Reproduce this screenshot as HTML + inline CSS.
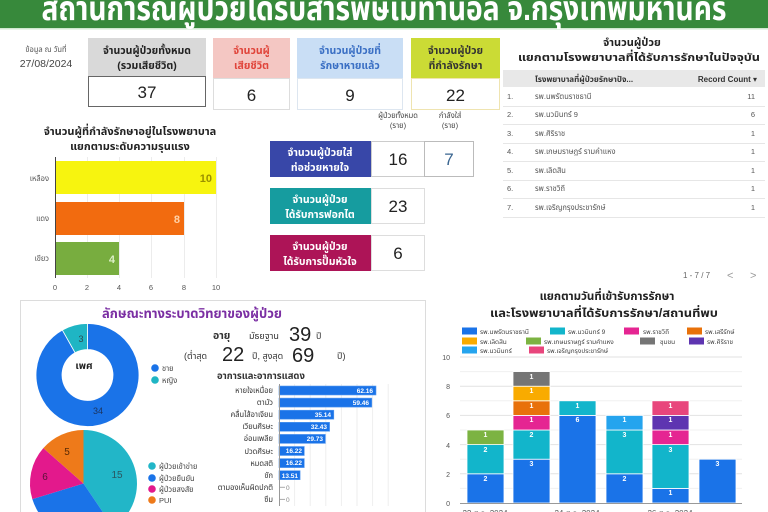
<!DOCTYPE html>
<html><head><meta charset="utf-8">
<style>
html,body{margin:0;padding:0;background:#fff;width:768px;height:512px;overflow:hidden;}
svg{display:block;}
text{font-family:"Liberation Sans","Noto Sans Thai","Tahoma","Garuda","Loma","DejaVu Sans",sans-serif;}
.b{font-weight:bold;}
</style></head>
<body>
<svg width="768" height="512" viewBox="0 0 768 512" xmlns="http://www.w3.org/2000/svg" overflow="hidden">
<rect width="768" height="512" fill="#fff"/>
<!-- header -->
<rect x="0" y="0" width="768" height="28" fill="#37893b"/>
<rect x="0" y="28" width="768" height="1.5" fill="#cfe8cf"/>
<text x="384" y="20" text-anchor="middle" font-size="34" class="b" fill="#fff" textLength="685" lengthAdjust="spacingAndGlyphs">สถานการณ์ผู้ป่วยได้รับสารพิษเมทานอล จ.กรุงเทพมหานคร</text>

<!-- date -->
<text x="46" y="52" text-anchor="middle" font-size="7.5" fill="#555">ข้อมูล ณ วันที่</text>
<text x="46" y="67" text-anchor="middle" font-size="10.5" fill="#444">27/08/2024</text>

<!-- KPI boxes -->
<rect x="88" y="38" width="118" height="38" fill="#d9d9d9"/>
<text x="147" y="54" text-anchor="middle" font-size="10.5" class="b" fill="#222">จำนวนผู้ป่วยทั้งหมด</text>
<text x="147" y="69" text-anchor="middle" font-size="10.5" class="b" fill="#222">(รวมเสียชีวิต)</text>
<rect x="88.5" y="76.5" width="117" height="30" fill="#fff" stroke="#666"/>
<text x="147" y="98" text-anchor="middle" font-size="17" fill="#222">37</text>

<rect x="213" y="38" width="77" height="40" fill="#f4c7c3"/>
<text x="251.5" y="54" text-anchor="middle" font-size="10.5" class="b" fill="#e0443a">จำนวนผู้</text>
<text x="251.5" y="69" text-anchor="middle" font-size="10.5" class="b" fill="#e0443a">เสียชีวิต</text>
<rect x="213.5" y="78.5" width="76" height="31" fill="#fff" stroke="#ddd"/>
<text x="251.5" y="101" text-anchor="middle" font-size="17" fill="#222">6</text>

<rect x="297" y="38" width="106" height="40" fill="#c9def5"/>
<text x="350" y="54" text-anchor="middle" font-size="10.5" class="b" fill="#3a6fc4">จำนวนผู้ป่วยที่</text>
<text x="350" y="69" text-anchor="middle" font-size="10.5" class="b" fill="#3a6fc4">รักษาหายแล้ว</text>
<rect x="297.5" y="78.5" width="105" height="31" fill="#fff" stroke="#dde6f0"/>
<text x="350" y="101" text-anchor="middle" font-size="17" fill="#222">9</text>

<rect x="411" y="38" width="89" height="40" fill="#cbdb35"/>
<text x="455.5" y="54" text-anchor="middle" font-size="10.5" class="b" fill="#333">จำนวนผู้ป่วย</text>
<text x="455.5" y="69" text-anchor="middle" font-size="10.5" class="b" fill="#333">ที่กำลังรักษา</text>
<rect x="411.5" y="78.5" width="88" height="31" fill="#fff" stroke="#efe4b0"/>
<text x="455.5" y="101" text-anchor="middle" font-size="17" fill="#222">22</text>

<!-- table -->
<text x="632" y="46" text-anchor="middle" font-size="11" class="b" fill="#222">จำนวนผู้ป่วย</text>
<text x="639" y="61" text-anchor="middle" font-size="11" class="b" fill="#222" textLength="242" lengthAdjust="spacingAndGlyphs">แยกตามโรงพยาบาลที่ได้รับการรักษาในปัจจุบัน</text>
<rect x="503" y="70" width="262" height="17" fill="#e8e8e8"/>
<text x="535" y="82" font-size="8" class="b" fill="#333">โรงพยาบาลที่ผู้ป่วยรักษาปัจ...</text>
<text x="757" y="82" text-anchor="end" font-size="8" class="b" fill="#333">Record Count ▾</text>
<g font-size="7.5" fill="#555">
<text x="507" y="99">1.</text><text x="535" y="99">รพ.นพรัตนราชธานี</text><text x="755" y="99" text-anchor="end">11</text>
<text x="507" y="117">2.</text><text x="535" y="117">รพ.นวมินทร์ 9</text><text x="755" y="117" text-anchor="end">6</text>
<text x="507" y="136">3.</text><text x="535" y="136">รพ.ศิริราช</text><text x="755" y="136" text-anchor="end">1</text>
<text x="507" y="154">4.</text><text x="535" y="154">รพ.เกษมราษฎร์ รามคำแหง</text><text x="755" y="154" text-anchor="end">1</text>
<text x="507" y="173">5.</text><text x="535" y="173">รพ.เลิดสิน</text><text x="755" y="173" text-anchor="end">1</text>
<text x="507" y="191">6.</text><text x="535" y="191">รพ.ราชวิถี</text><text x="755" y="191" text-anchor="end">1</text>
<text x="507" y="210">7.</text><text x="535" y="210">รพ.เจริญกรุงประชารักษ์</text><text x="755" y="210" text-anchor="end">1</text>
</g>
<g stroke="#e6e6e6" stroke-width="1">
<line x1="503" y1="106.5" x2="765" y2="106.5"/><line x1="503" y1="124.5" x2="765" y2="124.5"/>
<line x1="503" y1="143.5" x2="765" y2="143.5"/><line x1="503" y1="161.5" x2="765" y2="161.5"/>
<line x1="503" y1="180.5" x2="765" y2="180.5"/><line x1="503" y1="198.5" x2="765" y2="198.5"/>
<line x1="503" y1="217.5" x2="765" y2="217.5"/>
</g>
<text x="683" y="278" font-size="8" fill="#666">1 - 7 / 7</text>
<text x="727" y="279" font-size="11" fill="#999">&lt;</text>
<text x="750" y="279" font-size="11" fill="#999">&gt;</text>

<!-- left bar chart -->
<text x="130" y="135" text-anchor="middle" font-size="11" class="b" fill="#222">จำนวนผู้ที่กำลังรักษาอยู่ในโรงพยาบาล</text>
<text x="130" y="150" text-anchor="middle" font-size="11" class="b" fill="#222">แยกตามระดับความรุนแรง</text>
<g stroke="#ececec">
<line x1="87.5" y1="157" x2="87.5" y2="278"/><line x1="119.5" y1="157" x2="119.5" y2="278"/>
<line x1="151.5" y1="157" x2="151.5" y2="278"/><line x1="184.5" y1="157" x2="184.5" y2="278"/>
<line x1="216.5" y1="157" x2="216.5" y2="278"/>
</g>
<rect x="55" y="161" width="161" height="33" fill="#f7f40f"/>
<rect x="55" y="202" width="129" height="33" fill="#f26b0f"/>
<rect x="55" y="242" width="64" height="33" fill="#78ad3f"/>
<line x1="55.5" y1="157" x2="55.5" y2="278" stroke="#444"/>
<text x="212" y="182" text-anchor="end" font-size="11" class="b" fill="#9a9000">10</text>
<text x="180" y="223" text-anchor="end" font-size="11" class="b" fill="#ffd2a8">8</text>
<text x="115" y="263" text-anchor="end" font-size="11" class="b" fill="#dcefc6">4</text>
<g font-size="7.5" fill="#555" text-anchor="end">
<text x="49" y="181">เหลือง</text><text x="49" y="221">แดง</text><text x="49" y="261">เขียว</text>
</g>
<g font-size="7.5" fill="#555" text-anchor="middle">
<text x="55" y="290">0</text><text x="87" y="290">2</text><text x="119" y="290">4</text>
<text x="151" y="290">6</text><text x="184" y="290">8</text><text x="216" y="290">10</text>
</g>

<!-- middle procedures -->
<g font-size="7.5" fill="#444" text-anchor="middle">
<text x="398" y="118">ผู้ป่วยทั้งหมด</text><text x="398" y="128">(ราย)</text>
<text x="450" y="118">กำลังใส่</text><text x="450" y="128">(ราย)</text>
</g>
<rect x="270" y="141" width="101" height="36" fill="#3847a8"/>
<text x="320" y="156" text-anchor="middle" font-size="10.5" class="b" fill="#fff">จำนวนผู้ป่วยใส่</text>
<text x="320" y="171" text-anchor="middle" font-size="10.5" class="b" fill="#fff">ท่อช่วยหายใจ</text>
<rect x="371.5" y="141.5" width="53" height="35" fill="#fff" stroke="#ccc"/>
<text x="398" y="165" text-anchor="middle" font-size="17" fill="#222">16</text>
<rect x="424.5" y="141.5" width="49" height="35" fill="#fff" stroke="#bbb"/>
<text x="449" y="165" text-anchor="middle" font-size="17" fill="#3a6590">7</text>

<rect x="270" y="188" width="101" height="36" fill="#169c9f"/>
<text x="320" y="203" text-anchor="middle" font-size="10.5" class="b" fill="#fff">จำนวนผู้ป่วย</text>
<text x="320" y="218" text-anchor="middle" font-size="10.5" class="b" fill="#fff">ได้รับการฟอกไต</text>
<rect x="371.5" y="188.5" width="53" height="35" fill="#fff" stroke="#ddd"/>
<text x="398" y="212" text-anchor="middle" font-size="17" fill="#222">23</text>

<rect x="270" y="235" width="101" height="36" fill="#ad1457"/>
<text x="320" y="250" text-anchor="middle" font-size="10.5" class="b" fill="#fff">จำนวนผู้ป่วย</text>
<text x="320" y="265" text-anchor="middle" font-size="10.5" class="b" fill="#fff">ได้รับการปั๊มหัวใจ</text>
<rect x="371.5" y="235.5" width="53" height="35" fill="#fff" stroke="#ddd"/>
<text x="398" y="259" text-anchor="middle" font-size="17" fill="#222">6</text>

<!-- bottom-left panel -->
<rect x="20.5" y="300.5" width="405" height="220" fill="none" stroke="#dcdcdc"/>
<text x="192" y="318" text-anchor="middle" font-size="13" class="b" fill="#7b2fa3">ลักษณะทางระบาดวิทยาของผู้ป่วย</text>

<!-- donut -->
<path d="M87.5 323.5 A51.5 51.5 0 1 1 62.38 330.04 L75.06 352.74 A25.5 25.5 0 1 0 87.5 349.5 Z" fill="#1a73e8" stroke="#fff" stroke-width="0.8"/>
<path d="M62.38 330.04 A51.5 51.5 0 0 1 87.5 323.5 L87.5 349.5 A25.5 25.5 0 0 0 75.06 352.74 Z" fill="#1fb5c4" stroke="#fff" stroke-width="0.8"/>
<text x="81" y="342" text-anchor="middle" font-size="9" fill="#2d4a50">3</text>
<text x="98" y="414" text-anchor="middle" font-size="9" fill="#1c3560">34</text>
<text x="84" y="369" text-anchor="middle" font-size="10" class="b" fill="#222">เพศ</text>
<circle cx="155" cy="368" r="3.8" fill="#1a73e8"/><text x="162" y="371" font-size="7.5" fill="#444">ชาย</text>
<circle cx="155" cy="380" r="3.8" fill="#1fb5c4"/><text x="162" y="383" font-size="7.5" fill="#444">หญิง</text>

<!-- pie -->
<path d="M83.5 483.5 L83.5 430 A53.5 53.5 0 0 1 113.46 527.82 Z" fill="#22b6c8"/>
<path d="M83.5 483.5 L113.46 527.82 A53.5 53.5 0 0 1 32.34 499.17 Z" fill="#1a73e8"/>
<path d="M83.5 483.5 L32.34 499.17 A53.5 53.5 0 0 1 43.32 448.17 Z" fill="#e3198c"/>
<path d="M83.5 483.5 L43.32 448.17 A53.5 53.5 0 0 1 83.5 430 Z" fill="#ee7a1a"/>
<text x="117" y="478" text-anchor="middle" font-size="10" fill="#2a5760">15</text>
<text x="45" y="480" text-anchor="middle" font-size="10" fill="#5a1038">6</text>
<text x="67" y="455" text-anchor="middle" font-size="10" fill="#5a2a05">5</text>
<circle cx="152" cy="466" r="3.8" fill="#22b6c8"/><text x="159" y="469" font-size="7.5" fill="#444">ผู้ป่วยเข้าข่าย</text>
<circle cx="152" cy="478" r="3.8" fill="#1a73e8"/><text x="159" y="481" font-size="7.5" fill="#444">ผู้ป่วยยืนยัน</text>
<circle cx="152" cy="489" r="3.8" fill="#e3198c"/><text x="159" y="492" font-size="7.5" fill="#444">ผู้ป่วยสงสัย</text>
<circle cx="152" cy="500" r="3.8" fill="#ee7a1a"/><text x="159" y="503" font-size="7.5" fill="#444">PUI</text>

<!-- age -->
<text x="213" y="339" font-size="10.5" class="b" fill="#333">อายุ</text>
<text x="249" y="339" font-size="9" fill="#333">มัธยฐาน</text>
<text x="289" y="341" font-size="20" fill="#222">39</text>
<text x="316" y="339" font-size="9" fill="#333">ปี</text>
<text x="184" y="359" font-size="9" fill="#333">(ต่ำสุด</text>
<text x="222" y="361" font-size="20" fill="#222">22</text>
<text x="252" y="359" font-size="9" fill="#333">ปี, สูงสุด</text>
<text x="292" y="362" font-size="20" fill="#222">69</text>
<text x="337" y="359" font-size="9" fill="#333">ปี)</text>

<text x="217" y="379" font-size="9.5" class="b" fill="#333">อาการและอาการแสดง</text>
<g stroke="#eeeeee">
<line x1="294.6" y1="384" x2="294.6" y2="506"/><line x1="310.2" y1="384" x2="310.2" y2="506"/>
<line x1="325.8" y1="384" x2="325.8" y2="506"/><line x1="341.4" y1="384" x2="341.4" y2="506"/>
<line x1="357" y1="384" x2="357" y2="506"/><line x1="372.6" y1="384" x2="372.6" y2="506"/>
<line x1="388.2" y1="384" x2="388.2" y2="506"/>
</g>
<g fill="#1a73e8" stroke="#5a9cf0" stroke-width="0.6">
<rect x="279" y="386" width="97" height="9"/>
<rect x="279" y="398.1" width="92.8" height="9"/>
<rect x="279" y="410.2" width="54.8" height="9"/>
<rect x="279" y="422.3" width="50.6" height="9"/>
<rect x="279" y="434.4" width="46.4" height="9"/>
<rect x="279" y="446.5" width="25.3" height="9"/>
<rect x="279" y="458.6" width="25.3" height="9"/>
<rect x="279" y="470.7" width="21.1" height="9"/>
</g>
<line x1="279.5" y1="384" x2="279.5" y2="506" stroke="#999"/>
<g font-size="6.5" class="b" fill="#fff" text-anchor="end">
<text x="373" y="393">62.16</text><text x="369" y="405">59.46</text>
<text x="331" y="417">35.14</text><text x="327" y="429">32.43</text>
<text x="323" y="441">29.73</text><text x="302" y="453">16.22</text>
<text x="302" y="465">16.22</text><text x="298" y="478">13.51</text>
</g>
<g stroke="#aaa"><line x1="280" y1="487.3" x2="285" y2="487.3"/><line x1="280" y1="499.4" x2="285" y2="499.4"/></g>
<g font-size="6.5" fill="#888"><text x="286" y="490">0</text><text x="286" y="502">0</text></g>
<g font-size="7.5" fill="#333" text-anchor="end">
<text x="273" y="393">หายใจเหนื่อย</text>
<text x="273" y="405">ตามัว</text>
<text x="273" y="417">คลื่นไส้อาเจียน</text>
<text x="273" y="429">เวียนศีรษะ</text>
<text x="273" y="441">อ่อนเพลีย</text>
<text x="273" y="454">ปวดศีรษะ</text>
<text x="273" y="466">หมดสติ</text>
<text x="273" y="478">ชัก</text>
<text x="273" y="490">ตามองเห็นผิดปกติ</text>
<text x="273" y="502">ซึม</text>
</g>

<!-- right stacked chart -->
<text x="607" y="300" text-anchor="middle" font-size="11.5" class="b" fill="#222">แยกตามวันที่เข้ารับการรักษา</text>
<text x="604" y="317" text-anchor="middle" font-size="11.5" class="b" fill="#222" textLength="228" lengthAdjust="spacingAndGlyphs">และโรงพยาบาลที่ได้รับการรักษา/สถานที่พบ</text>
<g font-size="6.5" fill="#444">
<rect x="462" y="327.5" width="15" height="7" fill="#1a73e8"/><text x="480" y="334">รพ.นพรัตนราชธานี</text>
<rect x="550" y="327.5" width="15" height="7" fill="#12b5cb"/><text x="568" y="334">รพ.นวมินทร์ 9</text>
<rect x="624" y="327.5" width="15" height="7" fill="#e52592"/><text x="643" y="334">รพ.ราชวิถี</text>
<rect x="687" y="327.5" width="15" height="7" fill="#e8710a"/><text x="705" y="334">รพ.เสรีรักษ์</text>
<rect x="462" y="337.5" width="15" height="7" fill="#f9ab00"/><text x="480" y="344">รพ.เลิดสิน</text>
<rect x="526" y="337.5" width="15" height="7" fill="#7cb342"/><text x="544" y="344">รพ.เกษมราษฎร์ รามคำแหง</text>
<rect x="640" y="337.5" width="15" height="7" fill="#757575"/><text x="660" y="344">ชุมชน</text>
<rect x="689" y="337.5" width="15" height="7" fill="#5e35b1"/><text x="707" y="344">รพ.ศิริราช</text>
<rect x="462" y="346.5" width="15" height="7" fill="#25a4ee"/><text x="480" y="353">รพ.นวมินทร์</text>
<rect x="529" y="346.5" width="15" height="7" fill="#e8467c"/><text x="547" y="353">รพ.เจริญกรุงประชารักษ์</text>
</g>
<g stroke="#f0f0f0">
<line x1="460" y1="488.4" x2="742" y2="488.4"/><line x1="460" y1="459.2" x2="742" y2="459.2"/>
<line x1="460" y1="430" x2="742" y2="430"/><line x1="460" y1="400.8" x2="742" y2="400.8"/>
<line x1="460" y1="371.6" x2="742" y2="371.6"/>
</g>
<g stroke="#e2e2e2">
<line x1="460" y1="473.8" x2="742" y2="473.8"/><line x1="460" y1="444.6" x2="742" y2="444.6"/>
<line x1="460" y1="415.4" x2="742" y2="415.4"/><line x1="460" y1="386.2" x2="742" y2="386.2"/>
<line x1="460" y1="357" x2="742" y2="357"/>
</g>
<g font-size="7" fill="#555" text-anchor="end">
<text x="450" y="506">0</text><text x="450" y="477">2</text><text x="450" y="448">4</text>
<text x="450" y="418">6</text><text x="450" y="389">8</text><text x="450" y="360">10</text>
</g>
<g stroke="#fff" stroke-width="0.8">
<rect x="467" y="473.8" width="37" height="29.2" fill="#1a73e8"/>
<rect x="467" y="444.6" width="37" height="29.2" fill="#12b5cb"/>
<rect x="467" y="430" width="37" height="14.6" fill="#7cb342"/>
<rect x="513" y="459.2" width="37" height="43.8" fill="#1a73e8"/>
<rect x="513" y="430" width="37" height="29.2" fill="#12b5cb"/>
<rect x="513" y="415.4" width="37" height="14.6" fill="#e52592"/>
<rect x="513" y="400.8" width="37" height="14.6" fill="#e8710a"/>
<rect x="513" y="386.2" width="37" height="14.6" fill="#f9ab00"/>
<rect x="513" y="371.6" width="37" height="14.6" fill="#757575"/>
<rect x="559" y="415.4" width="37" height="87.6" fill="#1a73e8"/>
<rect x="559" y="400.8" width="37" height="14.6" fill="#12b5cb"/>
<rect x="606" y="473.8" width="37" height="29.2" fill="#1a73e8"/>
<rect x="606" y="430" width="37" height="43.8" fill="#12b5cb"/>
<rect x="606" y="415.4" width="37" height="14.6" fill="#25a4ee"/>
<rect x="652" y="488.4" width="37" height="14.6" fill="#1a73e8"/>
<rect x="652" y="444.6" width="37" height="43.8" fill="#12b5cb"/>
<rect x="652" y="430" width="37" height="14.6" fill="#e52592"/>
<rect x="652" y="415.4" width="37" height="14.6" fill="#5e35b1"/>
<rect x="652" y="400.8" width="37" height="14.6" fill="#e8467c"/>
<rect x="699" y="459.2" width="37" height="43.8" fill="#1a73e8"/>
</g>
<line x1="460" y1="503.5" x2="742" y2="503.5" stroke="#999"/>
<g font-size="7" class="b" fill="#fff" text-anchor="middle">
<text x="485.5" y="481">2</text><text x="485.5" y="452">2</text><text x="485.5" y="437">1</text>
<text x="531.5" y="466">3</text><text x="531.5" y="437">2</text><text x="531.5" y="422">1</text>
<text x="531.5" y="408">1</text><text x="531.5" y="393">1</text><text x="531.5" y="379">1</text>
<text x="577.5" y="422">6</text><text x="577.5" y="408">1</text>
<text x="624.5" y="481">2</text><text x="624.5" y="437">3</text><text x="624.5" y="422">1</text>
<text x="670.5" y="495">1</text><text x="670.5" y="452">3</text><text x="670.5" y="437">1</text>
<text x="670.5" y="422">1</text><text x="670.5" y="408">1</text>
<text x="717.5" y="466">3</text>
</g>
<g font-size="8" fill="#555" text-anchor="middle">
<text x="485" y="516">22 ส.ค. 2024</text>
<text x="577" y="516">24 ส.ค. 2024</text>
<text x="670" y="516">26 ส.ค. 2024</text>
</g>
</svg>
</body></html>
